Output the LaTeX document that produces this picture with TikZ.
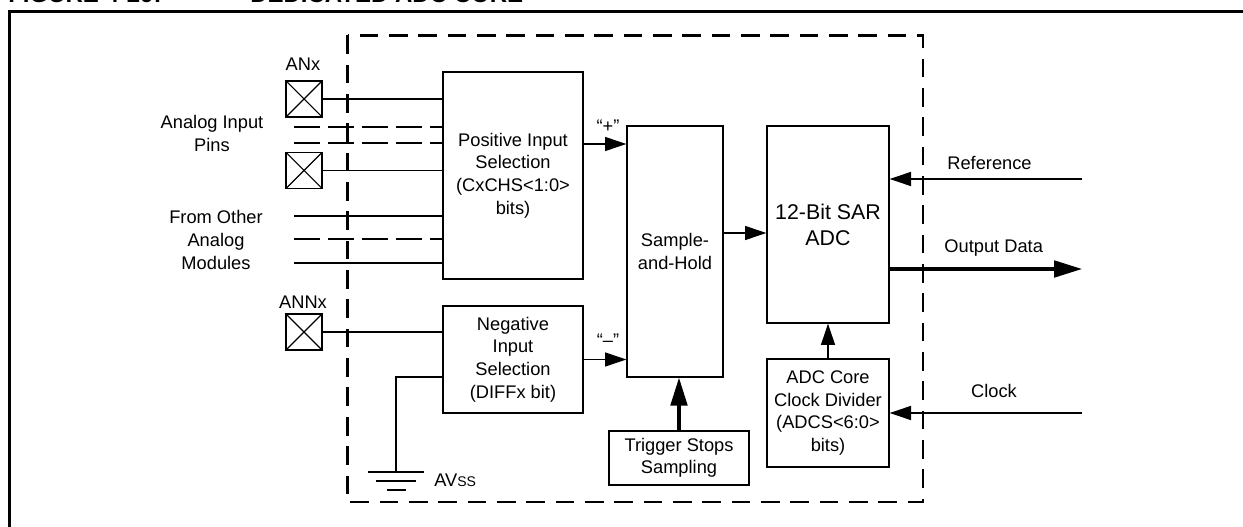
\documentclass[tikz,border=0pt]{standalone}
\usepackage{fontspec}
\setmainfont{Liberation Sans}
\usetikzlibrary{arrows.meta,calc}
\begin{document}
\begin{tikzpicture}[x=0.75pt,y=-0.75pt,
  every node/.style={font=\fontsize{13.7}{16.9}\selectfont},
  blk/.style={draw, line width=1pt, align=center, inner sep=0pt},
  pinbox/.style={draw, line width=1pt, minimum size=27pt, inner sep=0pt,
    path picture={\draw[line width=0.8pt]
      (path picture bounding box.south west)--(path picture bounding box.north east)
      (path picture bounding box.north west)--(path picture bounding box.south east);}},
  wire/.style={line width=1.1pt},
  dwire/.style={line width=1.9pt, dash pattern=on 19.5pt off 6pt},
  sarrow/.style={line width=1.1pt, -{Triangle[length=16pt,width=10.5pt]}},
  barrow/.style={line width=2.3pt, -{Triangle[length=21pt,width=12.5pt]}},
  lbl/.style={align=center, inner sep=0pt},
  gnd/.style={line width=1.5pt},
]
\useasboundingbox (0,0) rectangle (1243,527);
\clip (0,0) rectangle (1243,527);

% title (mostly cut off at the top)
\node[anchor=base west, inner sep=0pt, font=\bfseries\fontsize{18}{20}\selectfont] (title1) at (8,2.7) {FIGURE 4-29:};
\node[anchor=base west, inner sep=0pt, font=\bfseries\fontsize{18}{20}\selectfont] (title2) at (250,2.7) {DEDICATED ADC CORE};

% outer frame
\draw[line width=2.3pt] (9.5,540) -- (9.5,11.5) -- (1260,11.5);

% dashed module boundary
\draw[line width=1.6pt, dash pattern=on 14pt off 8pt] (347.5,35.5) rectangle (923,502);

% blocks
\node[blk, minimum width=105pt, minimum height=155.25pt] (pos) at (513,175.5) {Positive Input\\Selection\\(CxCHS<1:0>\\bits)};
\node[blk, minimum width=105pt, minimum height=80.25pt] (neg) at (513,359.5) {Negative\\Input\\Selection\\(DIFFx bit)};
\node[blk, minimum width=72pt, minimum height=188.25pt] (sh) at (675,251.5) {Sample-\\and-Hold};
\node[blk, minimum width=105pt, minimum height=40.5pt] (trig) at (679,458) {Trigger Stops\\Sampling};
\node[blk, minimum width=91.5pt, minimum height=147.75pt, font=\fontsize{16}{19.5}\selectfont] (adc) at (828,224.5) {12-Bit SAR\\ADC};
\node[blk, minimum width=91.5pt, minimum height=81pt] (div) at (828,413) {ADC Core\\Clock Divider\\(ADCS<6:0>\\bits)};

% pins
\node[pinbox] (pa) at (304,99) {};
\node[pinbox] (pb) at (304,170.5) {};
\node[pinbox] (pc) at (304,332) {};
\node[lbl] (la) at (303,64) {ANx};
\node[lbl] (lc) at (303,302) {ANNx};

% left labels
\node[lbl] (aip) at (212,133.5) {Analog Input\\Pins};
\node[lbl] (fom) at (216,240) {From Other\\Analog\\Modules};

% input wires
\draw[wire] (pa.east) -- (pa.east -| pos.west);
\draw[wire] (pb.east) -- (pb.east -| pos.west);
\draw[wire] (pc.east) -- (pc.east -| neg.west);
\coordinate (d1) at (294,127);
\coordinate (d2) at (294,143);
\coordinate (s1) at (294,216);
\coordinate (d3) at (294,239);
\coordinate (s2) at (294,263);
\draw[dwire] (d1) -- (d1 -| pos.west);
\draw[dwire] (d2) -- (d2 -| pos.west);
\draw[dwire] (d3) -- (d3 -| pos.west);
\draw[wire] (s1) -- (s1 -| pos.west);
\draw[wire] (s2) -- (s2 -| pos.west);

% ground
\coordinate (gw) at (396,377);
\coordinate (g0) at (396,472);
\draw[wire] (gw -| neg.west) -- (gw) -- (g0);
\draw[gnd] (368,472) -- (424,472);
\draw[gnd] (376,481) -- (416,481);
\draw[gnd] (387,490) -- (406,490);
\node[anchor=west, inner sep=0pt] (avss) at (434,480) {AV{\fontsize{10.5}{12}\selectfont SS}};

% internal arrows
\coordinate (yp) at (0,144);
\coordinate (yq) at (0,233);
\draw[sarrow] (pos.east |- yp) -- (sh.west |- yp);
\draw[sarrow] (neg.east) -- (neg.east -| sh.west);
\node[lbl] (plus) at (608,126) {“+”};
\node[lbl] (minus) at (608,340) {“–”};
\draw[sarrow] (sh.east |- yq) -- (adc.west |- yq);
\draw[barrow] (trig.north) -- (trig.north |- sh.south);
\draw[sarrow] (div.north) -- (adc.south);

% right side
\coordinate (ref) at (1082,179);
\coordinate (out) at (1082,269);
\coordinate (clk) at (1082,413);
\draw[sarrow] (ref) -- (ref -| adc.east);
\draw[barrow] (out -| adc.east) -- (out);
\draw[sarrow] (clk) -- (clk -| div.east);
\node[lbl] (lref) at (989.5,163) {Reference};
\node[lbl] (lout) at (993.7,248) {Output Data};
\node[lbl] (lclk) at (994,391) {Clock};
\end{tikzpicture}
\end{document}
